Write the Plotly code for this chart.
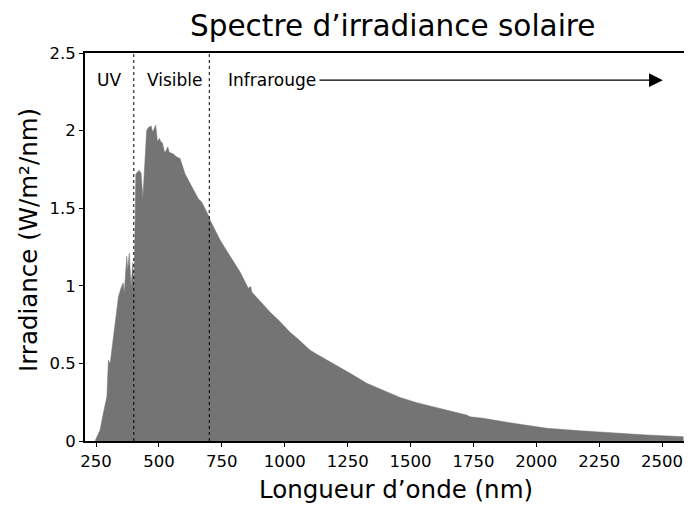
import plotly.graph_objects as go

# Wavelength (nm) and spectral irradiance (W/m²/nm)
wavelength_nm = [246, 266, 279, 293, 299, 306, 319, 332, 339, 349, 358, 362, 372, 376, 382,
                 389, 396, 401, 408, 421, 429, 436, 441, 451, 458, 469, 475, 487, 494, 502,
                 507, 514, 522, 528, 535, 541, 557, 571, 584, 591, 604, 617, 630, 643, 657,
                 670, 683, 696, 704, 743, 783, 822, 855, 865, 869, 902, 942, 981, 1021, 1054,
                 1101, 1140, 1193, 1260, 1326, 1392, 1458, 1525, 1591, 1657, 1723, 1737, 1790,
                 1909, 2042, 2174, 2280, 2293, 2439, 2585]
irradiance = [0.0, 0.071, 0.18, 0.285, 0.52, 0.50, 0.67, 0.82, 0.93, 0.985, 1.02, 0.95, 1.19,
              1.10, 1.21, 0.99, 1.15, 0.99, 1.72, 1.745, 1.725, 1.565, 1.70, 2.00, 2.02, 2.03,
              1.99, 2.035, 1.93, 1.95, 1.93, 1.92, 1.86, 1.87, 1.895, 1.86, 1.85, 1.83, 1.82,
              1.78, 1.72, 1.68, 1.64, 1.605, 1.56, 1.54, 1.50, 1.455, 1.42, 1.295, 1.19, 1.09,
              0.985, 0.995, 0.96, 0.90, 0.83, 0.77, 0.70, 0.655, 0.585, 0.547, 0.50, 0.436,
              0.372, 0.324, 0.281, 0.247, 0.221, 0.195, 0.167, 0.156, 0.146, 0.114, 0.082,
              0.066, 0.056, 0.050, 0.039, 0.028]

x_ticks = [250, 500, 750, 1000, 1250, 1500, 1750, 2000, 2250, 2500]
y_ticks = [0, 0.5, 1, 1.5, 2, 2.5]
y_tick_labels = ["0", "0.5", "1", "1.5", "2", "2.5"]

band_limits = [400, 700]
band_labels = ["UV", "Visible", "Infrarouge"]
band_label_x = [302, 564, 775]
label_y = 2.325
arrow_start = 1132
arrow_end = 2503

FONT = "DejaVu Sans"

fig = go.Figure()
fig.add_trace(go.Scatter(
    x=wavelength_nm, y=irradiance, mode="lines",
    line=dict(color="#747474", width=0.5),
    fill="tozeroy", fillcolor="#747474",
    hoverinfo="skip", showlegend=False,
))

for b in band_limits:
    fig.add_shape(type="line", x0=b, x1=b, y0=0, y1=2.5, xref="x", yref="y",
                  line=dict(color="black", width=1, dash="dot"))

fig.add_annotation(x=band_label_x[0], y=label_y, text=band_labels[0], showarrow=False,
                   xanchor="center", yanchor="middle", font=dict(family=FONT, size=17, color="black"))
fig.add_annotation(x=band_label_x[1], y=label_y, text=band_labels[1], showarrow=False,
                   xanchor="center", yanchor="middle", font=dict(family=FONT, size=17, color="black"))
fig.add_annotation(x=band_label_x[2], y=label_y, text=band_labels[2], showarrow=False,
                   xanchor="left", yanchor="middle", xshift=-2,
                   font=dict(family=FONT, size=17, color="black"))
fig.add_annotation(x=arrow_end, y=label_y, ax=arrow_start, ay=label_y, axref="x", ayref="y",
                   xref="x", yref="y", text="", showarrow=True, arrowhead=2, arrowsize=2.3,
                   arrowwidth=1.2, arrowcolor="black")

# Axis titles as annotations (positioned like the reference)
fig.add_annotation(text="Longueur d’onde (nm)", xref="paper", yref="paper", x=0.518, y=-0.126,
                   xanchor="center", yanchor="middle", showarrow=False,
                   font=dict(family=FONT, size=24.5, color="black"))
fig.add_annotation(text="Irradiance (W/m²/nm)", xref="paper", yref="paper", x=-0.095, y=0.518,
                   xanchor="center", yanchor="middle", showarrow=False, textangle=-90,
                   font=dict(family=FONT, size=24.5, color="black"))

fig.update_layout(
    width=692, height=507,
    margin=dict(l=77, r=15, t=45, b=74),
    paper_bgcolor="white", plot_bgcolor="white",
    font=dict(family=FONT, color="black"),
    title=dict(text="Spectre d’irradiance solaire", x=0.556, xanchor="center",
               y=0.966, yanchor="middle", font=dict(family=FONT, size=29.5, color="black")),
    xaxis=dict(range=[206, 2591], tickvals=x_ticks, ticktext=[str(t) for t in x_ticks],
               showgrid=False, zeroline=False, showline=True, linecolor="black", linewidth=2,
               mirror=True, ticks="outside", ticklen=4, tickcolor="black",
               tickfont=dict(family=FONT, size=16.5)),
    yaxis=dict(range=[0, 2.5], tickvals=y_ticks, ticktext=y_tick_labels,
               showgrid=False, zeroline=False, showline=True, linecolor="black", linewidth=2,
               mirror=True, ticks="outside", ticklen=4, tickcolor="black",
               tickfont=dict(family=FONT, size=16.5)),
)

fig.write_html("out.html")
